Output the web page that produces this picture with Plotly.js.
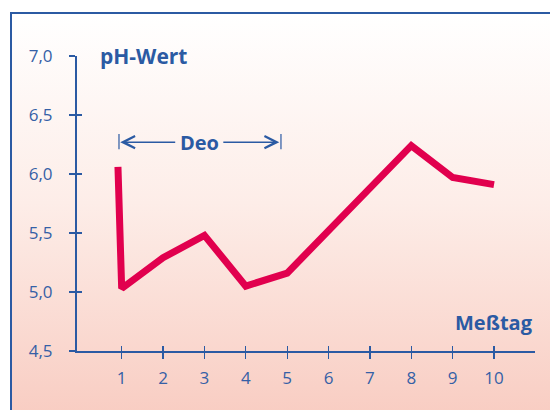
<!DOCTYPE html>
<html>
<head>
<meta charset="utf-8">
<script src="https://cdn.plot.ly/plotly-3.0.1.min.js"></script>
<style>
  html, body { margin: 0; padding: 0; width: 550px; height: 410px; overflow: hidden; background: #ffffff; }
  #frame { position: absolute; left: 10px; top: 12px; width: 560px; height: 420px;
           border-left: 2.5px solid #2B5AA3; border-top: 2.5px solid #2B5AA3;
           background: linear-gradient(to bottom, #FFFFFF 0%, #FDEDE8 45%, #F8CABF 100%); }
  #chart { position: absolute; left: 0; top: 0; width: 550px; height: 410px; }
</style>
</head>
<body>
<div id="frame"></div>
<div id="chart"></div>
<script>
// Data
const days   = [0.91, 1, 2, 3, 4, 5, 6, 7, 8, 9, 10];
const phVals = [6.06, 5.03, 5.29, 5.48, 5.05, 5.16, 5.52, 5.88, 6.24, 5.97, 5.91];
const xTicks = [1, 2, 3, 4, 5, 6, 7, 8, 9, 10];
const xTickLabels = ['1', '2', '3', '4', '5', '6', '7', '8', '9', '10'];
const yTicks = [4.5, 5.0, 5.5, 6.0, 6.5, 7.0];
const deoSpan = [0.935, 4.85];   // Deo period marker (x)
const deoLevel = 6.27;

const BLUE = '#2B5AA3';
const RED = '#E1004E';
const FONT = 'Open Sans, Noto Sans, sans-serif';

const traces = [
  { x: days, y: phVals, type: 'scatter', mode: 'lines',
    line: { color: RED, width: 7 }, hoverinfo: 'skip', showlegend: false },
  { x: days, y: phVals, type: 'scatter', mode: 'lines', xaxis: 'x2', yaxis: 'y2',
    line: { color: 'rgba(0,0,0,0)', width: 0 }, hoverinfo: 'skip', showlegend: false }
];

const xr = [-0.08, 10.99];
const yr = [4.5, 7.0];
const tickFont = { size: 17, color: '#3560A6', family: FONT, weight: 400 };

const layout = {
  width: 550, height: 410,
  margin: { l: 77, r: 15, t: 56, b: 59 },
  paper_bgcolor: 'rgba(0,0,0,0)', plot_bgcolor: 'rgba(0,0,0,0)',
  separators: ',.',
  font: { family: FONT, color: BLUE },
  showlegend: false,
  xaxis: { range: xr, showline: true, linecolor: BLUE, linewidth: 2,
           ticks: 'outside', ticklen: 6, tickwidth: 1.3, tickcolor: BLUE,
           tickvals: xTicks, ticktext: xTickLabels, ticklabelstandoff: 5,
           tickfont: tickFont,
           showgrid: false, zeroline: false, fixedrange: true },
  xaxis2: { range: xr, overlaying: 'x', anchor: 'y', side: 'bottom',
            ticks: 'inside', ticklen: 5, tickwidth: 1.3, tickcolor: BLUE,
            tickvals: xTicks, showticklabels: false, showline: false,
            showgrid: false, zeroline: false },
  yaxis: { range: yr, showline: true, linecolor: BLUE, linewidth: 2,
           ticks: 'outside', ticklen: 6, tickwidth: 1.3, tickcolor: BLUE,
           tickvals: yTicks, tickformat: '.1f', ticklabelstandoff: 13,
           tickfont: tickFont,
           showgrid: false, zeroline: false, fixedrange: true },
  yaxis2: { range: yr, overlaying: 'y', anchor: 'x', side: 'left',
            ticks: 'inside', ticklen: 5, tickwidth: 1.3, tickcolor: BLUE,
            tickvals: yTicks, showticklabels: false, showline: false,
            showgrid: false, zeroline: false },
  annotations: [
    { text: '<b>pH-Wert</b>', xref: 'x', yref: 'y', x: 0.43, y: 7.0,
      xanchor: 'left', yanchor: 'middle', showarrow: false,
      font: { size: 21, color: BLUE, family: FONT } },
    { text: '<b>Meßtag</b>', xref: 'paper', yref: 'y', x: 1, y: 4.74,
      xanchor: 'right', yanchor: 'middle', showarrow: false,
      font: { size: 20, color: BLUE, family: FONT } },
    { text: '<b>Deo</b>', xref: 'x', yref: 'y', x: 2.87, y: deoLevel,
      xanchor: 'center', yanchor: 'middle', showarrow: false,
      font: { size: 20, color: BLUE, family: FONT } },
    { text: '', xref: 'x', yref: 'y', axref: 'x', ayref: 'y',
      x: deoSpan[0] + 0.03, y: deoLevel, ax: 2.33, ay: deoLevel,
      showarrow: true, arrowhead: 5, arrowsize: 1.6, arrowwidth: 1.5, arrowcolor: BLUE },
    { text: '', xref: 'x', yref: 'y', axref: 'x', ayref: 'y',
      x: deoSpan[1] - 0.04, y: deoLevel, ax: 3.42, ay: deoLevel,
      showarrow: true, arrowhead: 5, arrowsize: 1.6, arrowwidth: 1.5, arrowcolor: BLUE }
  ],
  shapes: [
    { type: 'line', xref: 'x', yref: 'y', x0: deoSpan[0], x1: deoSpan[0],
      y0: deoLevel - 0.06, y1: deoLevel + 0.07, line: { color: BLUE, width: 1.2 } },
    { type: 'line', xref: 'x', yref: 'y', x0: deoSpan[1], x1: deoSpan[1],
      y0: deoLevel - 0.06, y1: deoLevel + 0.07, line: { color: BLUE, width: 1.2 } }
  ]
};

Plotly.newPlot('chart', traces, layout, { displayModeBar: false, staticPlot: true });
</script>
</body>
</html>
